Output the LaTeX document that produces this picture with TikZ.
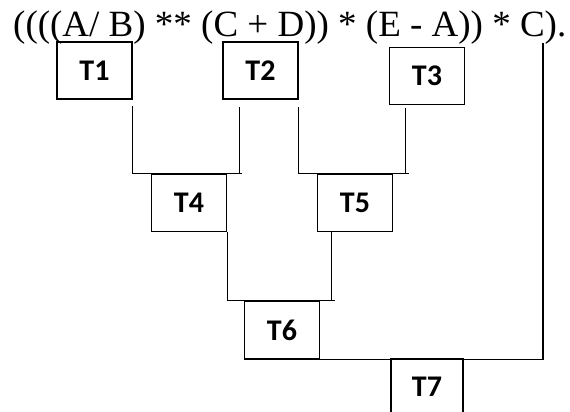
\documentclass[tikz,border=0pt]{standalone}
\usepackage{fontspec}
\setmainfont{Liberation Serif}
\newfontfamily\labelfamily{Carlito}
\usepackage{tikz}

\begin{document}
\begin{tikzpicture}[
  x=1pt,y=-1pt,
  tbox/.style={draw,line width=1.5pt,minimum width=75pt,minimum height=57pt,inner sep=0pt,
               font=\labelfamily\bfseries\fontsize{30}{30}\selectfont},
  wire/.style={line width=1.4pt},
  expr/.style={anchor=base west,inner sep=0pt,font=\fontsize{37}{37}\selectfont}
]
\useasboundingbox (0,0) rectangle (570,412);
\clip (0,0) rectangle (570,412);

\node[expr] (rpn) at (13,37) {((((A/ B) ** (C + D)) * (E - A)) * C).};

\node[tbox] (t1) at (94.5,70.5) {T1};
\node[tbox] (t2) at (260.5,70.5) {T2};
\node[tbox] (t3) at (427,76) {T3};
\node[tbox] (t4) at (189,203) {T4};
\node[tbox] (t5) at (355,203) {T5};
\node[tbox] (t6) at (282,330) {T6};
\node[tbox,minimum width=72pt] (t7) at (427,387) {T7};

% legs hanging under the operands
\coordinate (legA) at ([xshift=17pt,yshift=-7pt]t2.south west);
\coordinate (legB) at ([xshift=17pt,yshift=-3pt]t3.south west);
\coordinate (legC) at ([xshift=15pt]t5.south west);
\coordinate (legD) at (543,43);

% T1, T2 -> T4
\draw[wire] ([yshift=-6pt]t1.south east) |- ([xshift=3pt]legA |- t4.north);
\draw[wire] (legA) -- (legA |- t4.north);
% T2, T3 -> T5
\draw[wire] ([yshift=-7pt]t2.south east) |- ([xshift=3pt]legB |- t5.north);
\draw[wire] (legB) -- (legB |- t5.north);
% T4, T5 -> T6
\draw[wire] (t4.south east) |- ([xshift=3pt]legC |- t6.north);
\draw[wire] (legC) -- (legC |- t6.north);
% T6, C -> T7
\draw[wire] (t6.south west) -- (t6.south west -| legD) -- (legD);
\end{tikzpicture}
\end{document}
